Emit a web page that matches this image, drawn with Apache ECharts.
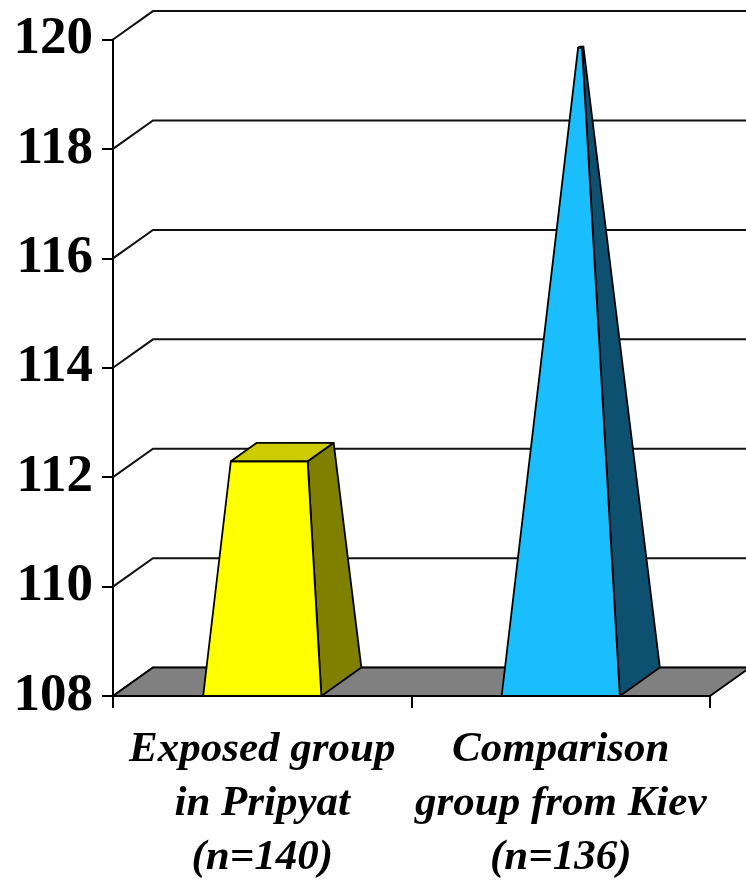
<!DOCTYPE html>
<html><head><meta charset="utf-8">
<script src="https://cdn.jsdelivr.net/npm/echarts@6/dist/echarts.min.js"></script>
<style>html,body{margin:0;padding:0;background:#fff}#c{width:746px;height:885px}</style>
</head><body><div id="c"></div>
<script>
// ---- data ----
const categories = ['Exposed group\nin Pripyat\n(n=140)', 'Comparison\ngroup from Kiev\n(n=136)'];
const values = [112.2, 119.6];
const yTicks = [108, 110, 112, 114, 116, 118, 120];
const Y_MIN = 108, Y_MAX = 120, Y_STEP = 2;

// ---- styles ----
const frontColors = ['#FFFF00', '#1ABEFC'];
const topColors = ['#CCCC00', '#1590C0'];
const sideColors = ['#7F7F00', '#0D5070'];
const DX = 40, DY = -28.4;      // 3D depth offset
const BAR_FRAC = 0.396;         // base width as fraction of band
const FONT = '"Liberation Serif","Times New Roman",serif';
const EDGE = { stroke: '#000', lineWidth: 1.8, lineJoin: 'round' };

function wallItem(params, api) {
  const cs = params.coordSys;
  const y = api.coord([0, api.value(1)])[1];
  const x0 = cs.x;
  return {
    type: 'polyline',
    shape: { points: [[x0, y], [x0 + DX, y + DY], [cs.x + cs.width + DX, y + DY]] },
    style: { stroke: '#111', lineWidth: 2, fill: null }
  };
}

function floorItem(params, api) {
  const cs = params.coordSys;
  const y = api.coord([0, api.value(1)])[1];
  const xl = cs.x, xr = cs.x + cs.width;
  return {
    type: 'polygon',
    shape: { points: [[xl, y], [xr, y], [xr + DX, y + DY], [xl + DX, y + DY]] },
    style: Object.assign({ fill: '#808080' }, EDGE)
  };
}

function barItem(params, api) {
  const i = api.value(0), v = api.value(1);
  const base = api.coord([i, Y_MIN]);
  const band = api.size([1, 0])[0];
  const hw = band * BAR_FRAC / 2;
  const s = 1 - (v - Y_MIN) / (Y_MAX - Y_MIN);
  const yTop = api.coord([i, v])[1];
  const dF = 0.5 - 0.5 * s, dB = 0.5 + 0.5 * s;
  const P = (u, d, y, sc) => [base[0] + u * hw * sc + d * DX, y + d * DY];
  const bFL = P(-1, 0, base[1], 1), bFR = P(1, 0, base[1], 1), bBR = P(1, 1, base[1], 1);
  const tFL = P(-1, dF, yTop, s), tFR = P(1, dF, yTop, s), tBR = P(1, dB, yTop, s), tBL = P(-1, dB, yTop, s);
  return {
    type: 'group',
    children: [
      { type: 'polygon', shape: { points: [bFR, bBR, tBR, tFR] }, style: Object.assign({ fill: sideColors[i] }, EDGE) },
      { type: 'polygon', shape: { points: [bFL, bFR, tFR, tFL] }, style: Object.assign({ fill: frontColors[i] }, EDGE) },
      { type: 'polygon', shape: { points: [tFL, tFR, tBR, tBL] }, style: Object.assign({ fill: topColors[i] }, EDGE) }
    ]
  };
}

const chart = echarts.init(document.getElementById('c'));
chart.setOption({
  animation: false,
  backgroundColor: '#fff',
  grid: { left: 113, right: 36, top: 39.5, bottom: 182.3 },
  xAxis: {
    type: 'category',
    data: categories,
    axisLine: { lineStyle: { color: '#000', width: 2 } },
    axisTick: { show: true, length: 12, lineStyle: { color: '#000', width: 2 } },
    axisLabel: {
      fontFamily: FONT, fontWeight: 'bold', fontStyle: 'italic',
      fontSize: 43, lineHeight: 54, color: '#000', margin: 27, interval: 0
    },
    splitLine: { show: false }
  },
  yAxis: {
    type: 'value', min: Y_MIN, max: Y_MAX, interval: Y_STEP,
    axisLine: { show: true, lineStyle: { color: '#000', width: 2 } },
    axisTick: { show: true, length: 11, lineStyle: { color: '#000', width: 2 } },
    axisLabel: { fontFamily: FONT, fontWeight: 'bold', fontSize: 53, color: '#000', margin: 20 },
    splitLine: { show: false }
  },
  series: [
    { type: 'custom', z: 1, clip: false, renderItem: wallItem, data: yTicks.map(v => [0, v]), silent: true },
    { type: 'custom', z: 2, clip: false, renderItem: floorItem, data: [[0, Y_MIN]], silent: true },
    { type: 'custom', z: 3, clip: false, renderItem: barItem, data: values.map((v, i) => [i, v]) }
  ]
});
</script>
</body></html>
